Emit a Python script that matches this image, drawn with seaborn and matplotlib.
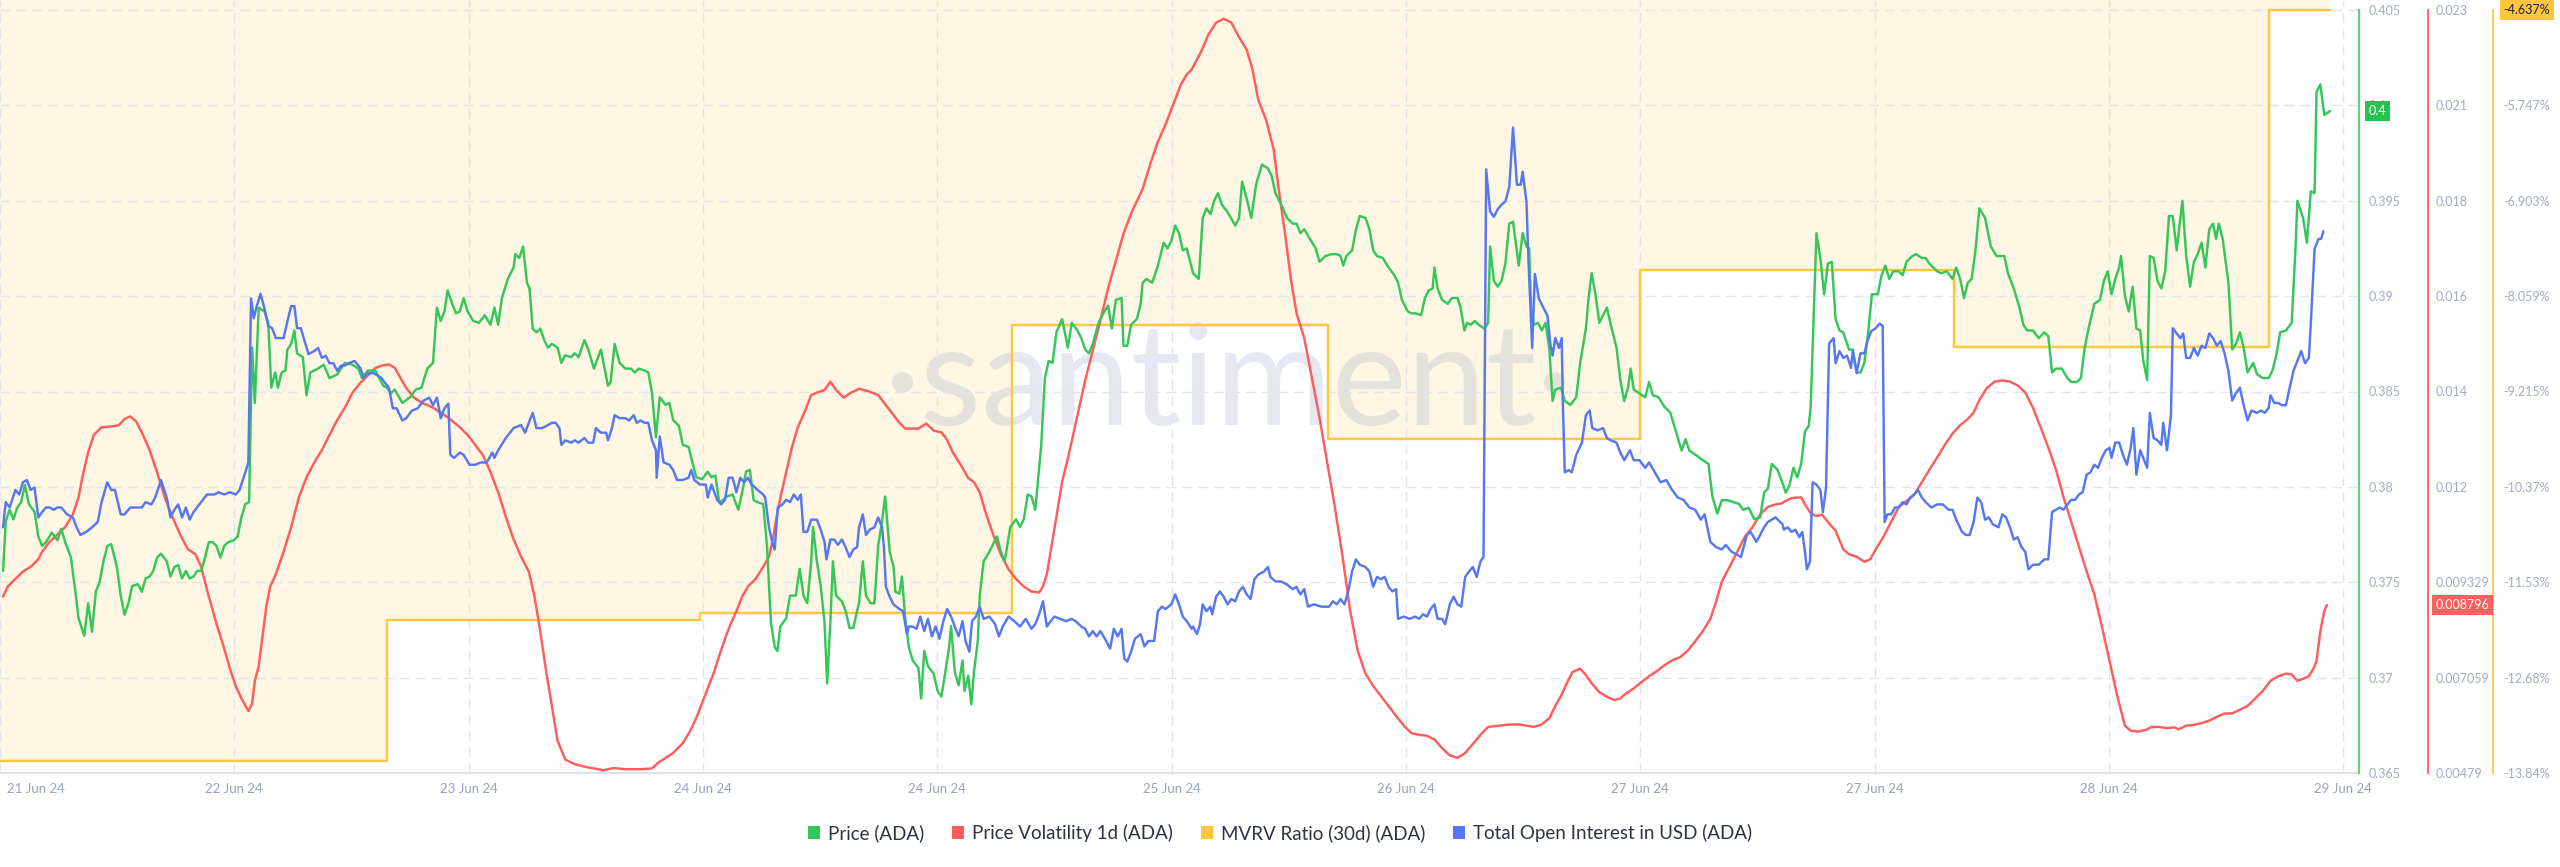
import numpy as np
import matplotlib
matplotlib.use("Agg")
import matplotlib.pyplot as plt
import matplotlib.transforms as mtransforms
import seaborn as sns
from matplotlib.patches import Patch

# ---------------- data (hours since 21 Jun 24 00:00) ----------------
price_hours = [0.25,0.47,0.79,1.10,1.41,1.73,2.04,2.36,2.83,3.14,3.45,3.77,4.24,4.71,5.02,5.34,5.81,6.12,6.44,6.91,7.22,7.54,7.85,8.16,8.48,8.79,9.11,9.58,9.89,10.21,10.52,10.83,11.30,11.62,11.93,12.25,12.56,12.87,13.19,13.66,13.97,14.29,14.60,14.92,15.23,15.54,15.86,16.17,16.49,16.80,17.11,17.43,17.74,18.06,18.37,18.68,19.15,19.47,19.78,20.10,20.41,20.66,20.88,21.20,21.67,21.98,22.23,22.55,22.77,23.08,23.39,23.55,23.86,24.12,24.34,24.81,25.12,25.43,25.75,26.06,26.53,27.00,27.63,28.26,28.89,29.36,29.67,30.14,30.77,31.40,31.71,32.03,32.34,32.97,33.60,34.07,34.54,35.01,35.48,35.80,36.11,36.42,36.68,37.05,37.37,37.68,37.99,38.31,38.78,39.25,39.72,40.19,40.51,40.82,41.13,41.61,42.08,42.23,42.55,42.86,43.18,43.39,43.65,43.96,44.27,44.59,44.90,45.22,45.69,46.00,46.32,46.79,47.10,47.41,47.89,48.20,48.67,49.24,
    49.82,50.04,50.36,50.77,51.24,51.71,52.02,52.34,52.81,53.12,53.43,53.75,54.06,54.53,54.85,55.16,55.63,55.95,56.42,56.73,57.05,57.52,57.99,58.30,58.62,58.93,59.24,59.56,60.03,60.50,60.81,61.13,61.44,61.76,62.07,62.54,62.85,63.17,63.48,63.70,63.95,64.42,64.74,65.21,65.52,65.84,66.15,66.47,66.62,66.94,67.25,67.56,67.78,68.04,68.25,68.51,68.98,69.29,69.61,69.92,70.23,70.39,70.70,70.96,71.33,71.65,71.96,72.27,72.53,72.90,73.22,73.37,73.69,73.91,74.16,74.47,74.79,75.26,75.48,75.73,76.04,76.51,76.83,77.14,77.46,77.77,77.93,78.24,78.55,78.87,79.03,79.34,79.59,79.81,80.12,80.28,80.60,81.07,81.69,82.01,82.32,82.79,83.26,83.58,83.89,84.21,84.52,84.83,84.99,85.31,85.62,85.93,86.25,86.56,87.03,87.50,87.82,88.29,88.60,88.92,89.23,89.54,90.02,90.49,90.80,91.11,91.43,91.90,92.06,92.37,92.68,93.16,93.47,93.63,93.94,94.41,94.88,95.35,95.67,95.98,96.30,96.61,96.92,97.24,97.65,
    97.76,98.23,98.55,98.86,99.18,99.49,99.80,100.12,100.59,101.22,101.53,101.78,102.16,102.53,102.94,103.41,103.89,104.20,104.51,104.98,105.46,105.93,106.24,106.55,106.87,107.34,107.81,108.12,108.60,109.07,109.54,109.85,110.07,110.32,110.79,111.11,111.42,111.89,112.21,112.52,112.83,113.31,113.78,114.25,114.56,114.88,115.35,115.66,115.97,116.45,116.76,117.07,117.39,117.54,117.80,118.17,118.64,118.96,119.43,119.68,119.99,120.21,120.53,120.84,121.16,121.63,121.94,122.10,122.41,122.73,123.04,123.35,123.67,123.98,124.45,124.77,125.08,125.30,125.46,125.71,126.02,126.34,126.65,126.96,127.22,127.44,127.91,128.22,128.69,129.16,129.48,129.95,130.17,130.42,130.73,131.05,131.36,131.67,131.99,132.46,132.77,133.09,133.40,133.62,133.87,134.34,134.81,135.13,135.44,135.91,136.38,136.86,137.33,137.80,138.11,138.43,138.90,139.52,140.00,140.31,140.72,141.09,141.57,142.04,142.51,142.82,143.29,143.76,144.23,144.55,144.86,145.18,145.65,146.06,
    146.33,146.64,146.96,147.27,147.59,147.90,148.21,148.37,148.68,148.84,149.16,149.47,149.78,150.10,150.41,150.73,151.04,151.51,151.82,152.14,152.45,152.77,153.08,153.39,153.87,154.18,154.49,154.81,155.12,155.59,155.91,156.22,156.69,157.01,157.48,157.79,158.10,158.42,158.73,159.05,159.52,159.99,160.30,160.62,160.93,161.24,161.56,161.87,162.19,162.66,163.13,163.60,164.23,164.54,165.01,165.48,165.80,166.11,166.58,167.05,167.52,167.84,168.15,168.47,168.94,169.41,169.72,170.19,170.51,170.82,171.14,171.61,172.08,172.39,172.71,173.02,173.33,173.65,173.80,174.12,174.43,174.75,175.06,175.37,175.63,175.94,176.16,176.47,176.79,177.10,177.42,177.73,178.04,178.36,178.83,179.14,179.46,179.77,180.08,180.40,180.71,181.03,181.34,181.59,181.81,182.13,182.60,182.91,183.22,183.54,183.85,184.17,184.64,184.95,185.42,185.89,186.21,186.52,186.84,187.31,187.78,188.09,188.25,188.72,189.03,189.35,189.66,189.82,190.13,190.45,190.92]
price_values = [0.3756,0.3782,0.3788,0.3783,0.3789,0.3792,0.3801,0.3791,0.3787,0.3774,0.3769,0.3771,0.3776,0.3772,0.3778,0.3771,0.3763,0.3748,0.3731,0.3722,0.3739,0.3724,0.3745,0.3750,0.3761,0.3769,0.3770,0.3758,0.3743,0.3733,0.3739,0.3748,0.3749,0.3745,0.3752,0.3753,0.3756,0.3763,0.3765,0.3761,0.3753,0.3758,0.3759,0.3752,0.3756,0.3752,0.3753,0.3756,0.3756,0.3763,0.3771,0.3771,0.3769,0.3763,0.3769,0.3771,0.3772,0.3774,0.3784,0.3791,0.3792,0.3873,0.3844,0.3894,0.3892,0.3886,0.3852,0.3860,0.3852,0.3860,0.3861,0.3872,0.3875,0.3882,0.3870,0.3868,0.3848,0.3860,0.3861,0.3862,0.3864,0.3857,0.3859,0.3865,0.3864,0.3862,0.3857,0.3861,0.3861,0.3853,0.3852,0.3849,0.3851,0.3844,0.3847,0.3851,0.3852,0.3862,0.3865,0.3894,0.3887,0.3892,0.3903,0.3896,0.3891,0.3892,0.3899,0.3892,0.3887,0.3886,0.3890,0.3885,0.3894,0.3885,0.3899,0.3909,0.3915,0.3922,0.3920,0.3926,0.3907,0.3904,0.3883,0.3881,0.3883,0.3877,0.3873,0.3875,0.3873,0.3865,0.3869,0.3868,0.3870,0.3868,0.3877,0.3872,0.3862,0.3872,
    0.3853,0.3855,0.3875,0.3865,0.3862,0.3862,0.3860,0.3862,0.3861,0.3860,0.3849,0.3826,0.3847,0.3843,0.3844,0.3835,0.3832,0.3822,0.3821,0.3813,0.3805,0.3804,0.3808,0.3805,0.3806,0.3792,0.3793,0.3795,0.3796,0.3788,0.3797,0.3808,0.3809,0.3793,0.3792,0.3791,0.3769,0.3729,0.3716,0.3714,0.3727,0.3731,0.3743,0.3743,0.3757,0.3743,0.3739,0.3761,0.3779,0.3761,0.3748,0.3729,0.3697,0.3729,0.3761,0.3743,0.3740,0.3735,0.3726,0.3726,0.3735,0.3739,0.3761,0.3743,0.3739,0.3739,0.3769,0.3782,0.3795,0.3766,0.3758,0.3745,0.3744,0.3753,0.3732,0.3716,0.3709,0.3705,0.3689,0.3714,0.3706,0.3702,0.3693,0.3690,0.3703,0.3716,0.3727,0.3703,0.3696,0.3709,0.3693,0.3701,0.3686,0.3703,0.3719,0.3743,0.3761,0.3766,0.3774,0.3766,0.3761,0.3779,0.3783,0.3779,0.3783,0.3796,0.3795,0.3788,0.3799,0.3821,0.3857,0.3866,0.3865,0.3881,0.3888,0.3873,0.3886,0.3882,0.3878,0.3872,0.3870,0.3875,0.3886,0.3892,0.3895,0.3883,0.3898,0.3899,0.3874,0.3874,0.3885,0.3888,0.3896,0.3907,0.3909,0.3907,0.3916,0.3928,0.3925,0.3929,0.3937,0.3933,0.3924,0.3925,0.3915,
    0.3912,0.3909,0.3941,0.3946,0.3943,0.3950,0.3954,0.3948,0.3944,0.3937,0.3941,0.3960,0.3951,0.3941,0.3959,0.3969,0.3967,0.3963,0.3954,0.3948,0.3941,0.3938,0.3938,0.3933,0.3935,0.3930,0.3925,0.3918,0.3921,0.3922,0.3922,0.3921,0.3916,0.3921,0.3924,0.3935,0.3942,0.3941,0.3935,0.3924,0.3921,0.3920,0.3915,0.3911,0.3907,0.3898,0.3892,0.3891,0.3891,0.3890,0.3899,0.3903,0.3904,0.3915,0.3904,0.3898,0.3896,0.3899,0.3899,0.3894,0.3882,0.3886,0.3885,0.3887,0.3885,0.3883,0.3886,0.3926,0.3908,0.3905,0.3908,0.3917,0.3938,0.3939,0.3916,0.3933,0.3926,0.3925,0.3894,0.3885,0.3886,0.3882,0.3886,0.3872,0.3845,0.3851,0.3852,0.3845,0.3843,0.3847,0.3865,0.3883,0.3899,0.3912,0.3901,0.3886,0.3890,0.3894,0.3885,0.3873,0.3856,0.3845,0.3852,0.3862,0.3851,0.3849,0.3847,0.3855,0.3848,0.3847,0.3842,0.3839,0.3829,0.3819,0.3825,0.3819,0.3817,0.3814,0.3812,0.3795,0.3786,0.3793,0.3793,0.3792,0.3791,0.3788,0.3789,0.3783,0.3784,0.3797,0.3799,0.3812,0.3809,0.3802,
    0.3797,0.3801,0.3810,0.3805,0.3812,0.3829,0.3832,0.3842,0.3901,0.3933,0.3920,0.3901,0.3917,0.3918,0.3888,0.3882,0.3881,0.3872,0.3872,0.3860,0.3860,0.3865,0.3881,0.3901,0.3901,0.3911,0.3916,0.3909,0.3913,0.3913,0.3911,0.3918,0.3921,0.3922,0.3920,0.3920,0.3917,0.3915,0.3913,0.3912,0.3913,0.3909,0.3915,0.3909,0.3899,0.3907,0.3909,0.3924,0.3946,0.3941,0.3926,0.3921,0.3921,0.3912,0.3904,0.3894,0.3885,0.3882,0.3882,0.3878,0.3881,0.3879,0.3860,0.3862,0.3862,0.3857,0.3855,0.3855,0.3857,0.3873,0.3883,0.3896,0.3898,0.3908,0.3913,0.3901,0.3909,0.3915,0.3921,0.3900,0.3892,0.3905,0.3883,0.3882,0.3866,0.3856,0.3921,0.3920,0.3908,0.3904,0.3913,0.3942,0.3942,0.3924,0.3950,0.3921,0.3905,0.3918,0.3922,0.3928,0.3915,0.3935,0.3938,0.3930,0.3938,0.3930,0.3907,0.3872,0.3875,0.3881,0.3873,0.3860,0.3865,0.3859,0.3857,0.3857,0.3861,0.3869,0.3881,0.3882,0.3886,0.3924,0.3950,0.3941,0.3928,0.3955,0.3954,0.4007,0.4011,0.3995,0.3997]

vol_hours = [0.25,0.63,1.26,1.88,2.51,3.14,3.45,4.08,4.71,5.34,5.97,6.44,6.75,7.22,7.69,8.32,9.11,9.73,10.21,10.68,11.15,11.62,12.25,12.87,13.50,14.13,14.76,15.39,16.01,16.49,17.11,17.74,18.37,18.84,19.31,19.78,20.35,20.66,20.88,21.20,21.51,21.82,22.14,22.61,23.24,23.86,24.49,25.12,25.75,26.38,27.00,27.63,28.26,28.89,29.52,30.14,30.77,31.40,31.87,32.34,32.81,33.28,33.91,34.54,35.48,36.11,36.74,37.68,38.31,38.94,39.56,40.19,40.82,41.45,42.08,42.70,43.33,43.80,44.27,44.75,45.22,45.69,46.32,47.10,48.04,49.24,
    49.35,50.29,51.24,52.49,53.43,53.91,54.53,55.16,55.95,56.57,57.05,57.52,57.99,58.46,58.93,59.40,59.87,60.34,60.81,61.28,61.91,62.54,63.01,63.33,63.64,63.95,64.42,64.89,65.37,65.99,66.47,66.94,67.56,68.04,68.51,69.13,69.76,70.39,71.17,71.96,72.59,73.22,73.69,74.16,74.79,75.26,75.89,76.51,77.14,77.61,78.08,78.71,79.34,79.81,80.28,80.75,81.38,82.01,82.64,83.26,83.89,84.52,85.15,85.46,85.78,86.09,86.56,87.03,87.66,88.29,88.92,89.54,90.17,90.80,91.43,92.06,92.68,93.63,94.25,94.88,95.51,96.14,96.76,97.24,97.65,
    97.76,98.39,99.02,99.65,100.27,100.90,101.53,102.16,102.63,103.10,103.73,104.36,104.83,105.30,105.77,106.24,106.87,107.50,108.12,108.75,109.38,110.01,110.64,111.26,111.89,112.52,113.15,113.78,114.40,115.03,115.66,116.29,116.92,117.54,118.17,118.80,119.43,120.06,120.68,121.31,121.94,122.88,123.82,124.45,125.08,125.71,126.34,126.96,127.44,127.91,128.38,128.85,129.48,129.95,130.42,131.05,131.67,132.30,132.77,133.24,133.87,134.50,135.13,135.76,136.38,137.01,137.64,138.27,138.90,139.52,140.15,140.62,141.09,141.72,142.35,142.98,143.61,144.23,144.86,145.49,146.06,
    146.17,146.80,147.59,147.90,148.37,148.84,149.31,149.78,150.41,151.04,151.51,152.14,152.77,153.24,153.71,154.34,154.96,155.59,156.22,156.85,157.48,158.10,158.73,159.36,159.99,160.62,161.24,161.72,162.19,162.81,163.44,164.07,164.70,165.33,165.95,166.58,167.21,167.84,168.47,169.09,169.72,170.35,170.98,171.61,172.23,172.86,173.49,174.12,174.59,175.22,175.85,176.32,176.94,177.57,178.20,178.51,179.14,179.77,180.40,181.03,181.65,182.28,182.91,183.54,184.17,184.79,185.42,186.05,186.68,187.31,187.78,188.25,188.72,189.19,189.57,189.82,190.13,190.45,190.67]
vol_values_milli = [9.00,9.24,9.42,9.60,9.71,9.89,10.07,10.31,10.48,10.66,10.96,11.37,11.85,12.44,12.86,13.04,13.06,13.09,13.24,13.30,13.18,12.92,12.50,11.97,11.37,10.90,10.48,10.13,10.01,9.71,9.00,8.35,7.76,7.28,6.87,6.57,6.27,6.45,6.99,7.34,8.05,8.76,9.24,9.54,10.07,10.66,11.37,11.85,12.20,12.50,12.86,13.21,13.51,13.87,14.10,14.28,14.46,14.52,14.54,14.46,14.22,13.98,13.75,13.63,13.51,13.39,13.27,13.04,12.86,12.62,12.38,11.97,11.49,10.90,10.37,9.95,9.60,9.00,8.17,7.22,6.39,5.56,5.11,5.00,4.93,4.87,
    4.85,4.91,4.88,4.88,4.90,5.03,5.15,5.27,5.50,5.80,6.10,6.45,6.81,7.16,7.58,7.99,8.35,8.65,9.00,9.24,9.42,9.71,9.95,10.37,10.90,11.37,11.97,12.56,13.04,13.45,13.81,13.87,13.93,14.13,13.93,13.75,13.87,13.96,13.90,13.81,13.57,13.33,13.15,13.01,13.01,13.01,13.13,12.96,12.92,12.74,12.44,12.15,11.83,11.73,11.49,11.02,10.48,10.01,9.65,9.42,9.24,9.12,9.10,9.24,9.54,10.07,10.90,11.73,12.50,13.33,14.16,14.87,15.59,16.36,17.01,17.66,18.14,18.73,19.32,19.86,20.27,20.75,21.22,21.46,21.58,
    21.64,21.99,22.41,22.70,22.79,22.70,22.35,22.05,21.58,20.86,20.39,19.68,18.61,17.66,16.59,15.76,15.17,14.22,13.27,12.20,11.14,9.95,8.65,7.70,7.16,6.87,6.63,6.39,6.15,5.92,5.74,5.70,5.68,5.59,5.38,5.21,5.15,5.27,5.48,5.70,5.89,5.92,5.95,5.95,5.92,5.89,5.95,6.10,6.39,6.63,6.93,7.20,7.28,7.13,6.93,6.72,6.61,6.53,6.57,6.69,6.81,6.96,7.10,7.22,7.36,7.48,7.55,7.70,7.93,8.17,8.47,8.88,9.36,9.71,10.07,10.43,10.66,10.96,11.14,11.20,11.23,
    11.26,11.35,11.37,11.20,10.99,10.92,10.96,10.78,10.57,10.13,10.01,9.95,9.83,9.89,10.13,10.43,10.78,11.14,11.28,11.43,11.73,12.03,12.32,12.62,12.89,13.09,13.24,13.39,13.69,13.98,14.13,14.16,14.13,14.04,13.87,13.51,13.04,12.56,12.03,11.37,10.78,10.19,9.60,9.06,8.29,7.46,6.63,5.92,5.80,5.78,5.82,5.89,5.89,5.86,5.88,5.83,5.92,5.94,5.98,6.04,6.13,6.21,6.21,6.30,6.39,6.57,6.75,6.99,7.10,7.16,7.14,6.99,7.04,7.10,7.28,7.46,8.17,8.65,8.796]

mvrv_hours = [0.0, 31.7, 57.4, 82.9, 108.8, 134.4, 160.1, 185.9, 190.9]
mvrv_values = [-13.69, -12.00, -11.91, -8.44, -9.81, -7.77, -8.70, -4.637, -4.637]

oi_hours = [0.25,0.47,0.79,1.26,1.57,1.88,2.20,2.51,2.83,3.14,3.45,3.77,4.08,4.40,4.71,5.02,5.50,5.97,6.28,6.59,7.07,7.54,8.01,8.32,8.79,9.11,9.42,9.89,10.21,10.68,11.15,11.62,11.93,12.40,12.72,13.19,13.66,13.97,14.29,14.60,14.92,15.23,15.54,15.86,16.33,16.96,17.58,17.90,18.37,18.84,19.31,19.63,20.10,20.35,20.57,20.79,21.04,21.35,21.67,21.98,22.29,22.61,23.24,23.55,23.86,24.12,24.34,24.65,24.96,25.28,25.75,26.06,26.38,26.69,27.00,27.32,27.63,27.95,28.26,28.57,29.05,29.52,29.83,30.14,30.62,30.93,31.24,31.56,31.87,32.19,32.50,32.97,33.28,33.76,34.23,34.70,35.17,35.48,35.80,36.11,36.42,36.74,36.90,37.21,37.68,37.99,38.47,38.94,39.41,39.88,40.35,40.51,40.82,41.45,42.08,42.70,43.02,43.33,43.65,43.96,44.43,44.90,45.22,45.53,45.84,46.00,46.32,46.79,47.10,47.41,47.89,48.20,48.61,48.83,49.24,
    49.35,49.67,49.82,50.14,50.36,50.77,51.24,51.55,51.93,52.18,52.49,52.81,53.12,53.43,53.75,53.81,54.06,54.38,54.85,55.16,55.48,55.95,56.42,56.64,56.89,57.36,57.83,57.99,58.30,58.77,59.09,59.40,59.71,60.03,60.34,60.66,60.97,61.28,61.60,62.07,62.54,62.70,63.01,63.33,63.48,63.73,64.11,64.42,64.74,65.05,65.37,65.62,65.84,66.15,66.47,66.94,67.25,67.56,67.72,68.04,68.35,68.66,68.98,69.29,69.61,69.92,70.23,70.39,70.70,70.96,71.27,71.65,71.96,72.27,72.43,72.59,72.90,73.22,73.69,74.00,74.32,74.47,74.79,75.10,75.41,75.73,76.04,76.36,76.67,76.98,77.30,77.61,77.93,78.24,78.55,78.87,79.12,79.43,79.65,79.97,80.28,80.60,81.07,81.54,81.85,82.17,82.64,83.11,83.58,84.05,84.52,84.83,85.15,85.46,85.78,86.09,86.40,86.88,87.35,87.82,88.13,88.60,88.92,89.23,89.54,89.86,90.17,90.64,90.96,91.27,91.59,91.90,92.12,92.37,92.68,93.00,93.47,93.78,94.10,94.57,94.88,95.20,95.51,95.98,96.30,96.61,96.92,97.24,97.65,
    97.76,98.08,98.33,98.55,98.86,99.18,99.33,99.65,99.96,100.27,100.59,100.90,101.22,101.53,101.84,102.16,102.47,102.79,103.10,103.57,103.89,104.10,104.51,104.98,105.46,105.93,106.24,106.55,106.87,107.18,107.65,108.28,108.91,109.22,109.54,109.85,110.17,110.48,110.79,111.11,111.42,111.89,112.21,112.52,112.83,113.15,113.46,113.78,114.09,114.40,114.56,115.03,115.50,115.97,116.29,116.60,116.92,117.23,117.54,117.80,118.17,118.42,118.80,119.11,119.43,119.74,120.06,120.37,120.68,121.00,121.31,121.56,121.78,122.10,122.41,122.73,123.04,123.35,123.67,123.98,124.30,124.61,124.77,125.08,125.24,125.55,125.77,126.09,126.49,126.81,127.03,127.22,127.44,127.75,127.97,128.06,128.22,128.53,128.79,129.16,129.63,129.95,130.26,130.48,130.89,131.36,131.67,131.99,132.46,132.77,133.09,133.56,133.87,134.34,134.81,135.13,135.60,136.07,136.54,137.01,137.48,137.95,138.43,138.90,139.37,139.68,140.15,140.62,141.09,141.41,141.88,142.35,142.66,143.14,143.45,143.92,144.23,144.55,144.86,145.18,145.49,146.06,
    146.17,146.49,146.80,147.11,147.43,147.68,147.90,148.06,148.31,148.53,148.84,149.16,149.37,149.63,149.88,150.25,150.41,150.73,151.04,151.35,151.67,151.82,152.14,152.45,152.77,153.02,153.33,153.71,154.02,154.27,154.43,154.65,154.96,155.28,155.59,155.91,156.22,156.53,156.85,157.16,157.48,157.79,158.26,158.73,159.20,159.67,159.99,160.30,160.77,161.09,161.40,161.72,162.03,162.34,162.66,162.97,163.29,163.76,164.07,164.38,164.70,165.01,165.33,165.64,165.95,166.21,166.58,167.05,167.52,167.84,168.15,168.47,168.78,169.09,169.41,169.72,170.04,170.35,170.66,170.98,171.29,171.61,171.92,172.23,172.55,172.86,173.02,173.33,173.65,173.96,174.28,174.59,174.81,175.06,175.37,175.69,175.94,176.16,176.47,176.79,177.10,177.26,177.57,177.89,178.04,178.36,178.67,178.89,179.14,179.46,179.77,180.08,180.40,180.71,181.03,181.34,181.65,181.97,182.28,182.60,182.91,183.22,183.54,183.85,184.17,184.48,184.95,185.27,185.58,185.89,186.05,186.36,186.68,186.99,187.31,187.62,187.93,188.25,188.56,188.88,189.19,189.35,189.66,189.98,190.20,190.38]
oi_values_musd = [232.2,235.5,234.8,237.1,236.5,238.1,238.4,237.1,237.4,233.5,234.2,234.8,234.8,234.5,234.8,234.8,233.9,233.5,232.2,231.2,231.6,232.2,232.9,235.5,238.1,237.1,237.1,233.9,233.9,234.8,234.8,234.8,235.5,235.2,236.1,238.4,236.1,233.5,234.5,235.2,233.5,234.8,233.2,234.2,235.2,236.5,236.5,236.8,236.5,236.8,236.5,237.1,239.4,240.7,262.2,259.6,261.2,262.8,260.9,258.6,258.3,257.0,257.0,259.2,261.2,261.2,258.3,258.3,256.6,254.9,255.3,255.7,254.4,254.7,253.7,253.7,252.7,253.4,253.4,253.7,254.0,253.1,251.8,252.4,252.4,252.1,251.8,251.1,250.5,247.8,247.8,246.2,246.5,247.5,247.8,248.8,249.2,248.2,249.2,246.5,247.8,248.4,241.7,241.3,242.0,241.7,240.4,240.4,240.7,240.7,242.0,241.3,242.3,243.9,245.2,245.6,244.6,245.9,247.2,245.2,245.2,245.6,245.9,245.9,245.2,243.0,243.6,243.3,243.6,243.3,243.9,243.3,243.3,245.2,244.6,
    244.6,244.6,243.6,245.2,246.9,246.5,246.5,246.2,246.9,245.9,246.2,245.9,245.9,243.6,242.3,238.7,244.1,240.7,240.4,239.7,238.4,238.4,238.7,239.7,238.4,237.8,237.8,236.1,237.8,235.8,235.2,235.8,238.7,238.7,236.8,238.7,238.1,238.7,237.8,237.1,236.5,236.1,232.2,229.9,229.3,234.8,235.2,235.8,235.5,236.5,235.8,236.5,231.6,231.6,233.2,233.2,231.9,230.3,228.0,230.6,230.6,229.9,230.6,229.6,228.3,229.3,229.6,232.2,233.9,231.2,231.9,232.2,233.5,232.2,229.6,224.4,223.1,222.1,221.5,221.2,218.2,219.2,219.2,218.9,220.5,218.6,220.2,217.9,219.2,217.6,219.9,221.5,220.5,219.2,217.9,219.9,217.3,215.9,219.9,220.5,221.8,220.2,220.5,219.5,217.9,219.2,220.5,219.9,219.2,220.2,218.9,219.5,220.8,222.5,219.2,219.9,220.5,220.2,219.9,220.2,219.9,219.2,218.9,217.9,218.6,217.9,218.6,217.3,216.3,218.9,217.9,218.9,215.0,214.6,215.9,217.6,218.2,216.6,217.3,217.3,221.2,221.8,221.5,222.1,223.4,222.1,220.5,219.9,218.9,
    219.2,218.2,219.5,222.1,221.2,221.8,220.8,223.1,223.8,223.1,222.1,222.8,222.5,223.8,224.4,223.4,222.8,225.4,226.0,226.4,227.0,225.7,225.1,225.1,224.7,224.1,224.4,223.4,224.1,221.8,222.1,221.8,221.8,222.5,222.1,222.8,222.1,223.8,226.4,228.0,227.3,227.0,226.4,224.4,225.7,225.4,225.7,224.4,223.8,224.1,220.2,220.5,220.2,220.5,220.2,220.8,220.5,221.5,222.1,220.2,220.2,219.5,222.1,223.1,222.1,221.8,225.7,226.4,227.0,225.7,227.7,228.3,279.1,273.6,272.9,273.9,274.5,274.9,276.8,284.6,277.1,277.1,278.8,274.9,267.4,255.7,265.4,262.2,260.9,259.9,256.3,254.7,257.0,255.7,257.0,248.5,239.4,239.7,239.4,241.7,243.3,246.9,247.5,245.2,244.9,245.2,243.9,243.6,243.3,242.0,241.0,242.3,241.0,241.0,240.0,240.7,239.4,238.1,238.4,237.1,236.1,235.8,234.8,234.5,233.2,233.9,230.3,229.6,229.3,229.9,229.0,228.6,228.3,231.2,231.6,230.3,231.2,232.2,232.9,233.2,233.5,232.6,
    231.9,232.2,231.6,231.9,230.9,231.6,229.0,226.7,227.7,238.1,237.8,237.1,234.2,237.4,256.3,257.0,253.7,255.3,254.4,254.7,253.1,255.3,252.4,255.0,255.0,256.6,257.9,258.3,258.9,258.6,232.9,233.9,233.9,234.8,234.8,235.5,235.2,236.1,236.5,237.1,236.1,235.5,234.8,235.2,235.2,234.5,234.5,233.2,231.6,231.2,231.2,232.9,236.1,235.5,233.2,233.5,232.6,232.2,233.9,233.5,232.2,230.6,230.9,229.6,229.0,226.7,227.3,227.3,228.0,228.0,234.2,234.5,234.8,234.5,235.2,235.8,235.8,236.5,236.8,239.1,239.4,240.4,240.0,241.3,242.3,242.6,241.3,243.3,243.3,241.7,240.4,242.6,245.2,239.1,242.3,241.0,240.0,247.2,243.9,243.6,243.0,245.9,242.3,246.9,258.3,257.6,257.0,257.6,254.4,254.4,255.7,254.7,256.0,255.7,257.6,257.0,256.0,256.6,255.0,252.7,248.8,249.8,250.5,248.2,246.2,247.5,247.2,247.5,247.2,247.8,249.5,248.5,248.5,248.2,248.2,250.5,252.7,254.0,255.3,253.7,254.4,258.9,268.7,270.0,270.0,271.0]

x_tick_hours = [0.0, 19.2, 38.4, 57.6, 76.8, 96.0, 115.2, 134.4, 153.6, 172.8, 192.0]
x_tick_labels = ["21 Jun 24", "22 Jun 24", "23 Jun 24", "24 Jun 24", "24 Jun 24", "25 Jun 24",
                 "26 Jun 24", "27 Jun 24", "27 Jun 24", "28 Jun 24", "29 Jun 24"]
price_ticks = [0.365, 0.37, 0.375, 0.38, 0.385, 0.39, 0.395, 0.4, 0.405]
price_tick_labels = ["0.365", "0.37", "0.375", "0.38", "0.385", "0.39", "0.395", "0.4", "0.405"]
vol_range = (0.00479, 0.023)
vol_tick_labels = ["0.00479", "0.007059", "0.009329", "0.012", "0.014", "0.016", "0.018", "0.021", "0.023"]
mvrv_range = (-13.84, -4.637)
mvrv_tick_labels = ["-13.84%", "-12.68%", "-11.53%", "-10.37%", "-9.215%", "-8.059%", "-6.903%", "-5.747%", "-4.637%"]
oi_range = (200.0, 300.0)
series_names = ["Price (ADA)", "Price Volatility 1d (ADA)", "MVRV Ratio (30d) (ADA)", "Total Open Interest in USD (ADA)"]

# ---------------- style ----------------
C_PRICE, C_VOL, C_MVRV, C_OI = "#35c65a", "#ff5c5c", "#ffc73f", "#5577f2"
FILL = "#fff6e3"
TICK_C = "#a3abc3"
LW = 1.75

sns.set_theme(style="white")
plt.rcParams["font.family"] = ["Lato", "DejaVu Sans"]

W, H, DPI = 2560, 867, 100
right_px, bottom_px, top_pad_px = 2359, 773, 10
fig = plt.figure(figsize=(W / DPI, H / DPI), dpi=DPI)
ax = fig.add_axes([0, 1 - bottom_px / H, right_px / W, bottom_px / H])
ax_v = ax.twinx()
ax_p = ax.twinx()
ax_o = ax.twinx()

pad = top_pad_px / (bottom_px - top_pad_px)
def lim(lo, hi):
    return (lo, hi + (hi - lo) * pad)

xlim = (0, 193.3)
ax.set_xlim(*xlim)
ax.set_ylim(*lim(*mvrv_range))
ax_v.set_ylim(*lim(*vol_range))
ax_p.set_ylim(*lim(price_ticks[0], price_ticks[-1]))
ax_o.set_ylim(*lim(*oi_range))

# background fill above MVRV line
mtop = ax.get_ylim()[1]
ax.fill_between(mvrv_hours, mvrv_values, mtop, step="post", color=FILL, linewidth=0, zorder=0.1)

# watermark
ax.text(1228 / right_px, (bottom_px - 425) / bottom_px, "\u00b7santiment\u00b7", transform=ax.transAxes,
        ha="center", va="baseline", fontsize=102, color="#9aa5c4", alpha=0.25, zorder=0.3)

# lines
sns.lineplot(x=mvrv_hours, y=mvrv_values, ax=ax, color=C_MVRV, linewidth=LW,
             drawstyle="steps-post", estimator=None, legend=False, zorder=2)
sns.lineplot(x=vol_hours, y=np.array(vol_values_milli) / 1000, ax=ax_v, color=C_VOL, linewidth=LW,
             estimator=None, legend=False)
sns.lineplot(x=price_hours, y=price_values, ax=ax_p, color=C_PRICE, linewidth=LW,
             estimator=None, legend=False)
sns.lineplot(x=oi_hours, y=oi_values_musd, ax=ax_o, color=C_OI, linewidth=LW,
             estimator=None, legend=False)
for a in (ax, ax_v, ax_p, ax_o):
    a.set_xlabel("")
    a.set_ylabel("")
    a.set_xlim(*xlim)

# grid
ax.set_axisbelow(True)
ax.grid(True, axis="both", color="#e2e4ec", linestyle=(0, (7, 4.5)), linewidth=1.0)

# x axis
ax.set_xticks(x_tick_hours)
ax.set_xticklabels(x_tick_labels)
ax.tick_params(axis="x", length=0, pad=7, labelsize=9.5, labelcolor="#9aa2bb")
first = ax.get_xticklabels()[0]
first.set_horizontalalignment("left")
first.set_transform(first.get_transform() + mtransforms.ScaledTranslation(7 / DPI, 0, fig.dpi_scale_trans))
for s in ("top", "left"):
    ax.spines[s].set_visible(False)
ax.spines["bottom"].set_color("#dde1ea")
ax.spines["bottom"].set_linewidth(1.5)

# MVRV axis (main)
ax.yaxis.tick_right()
ax.spines["right"].set_position(("axes", 2493 / right_px))
ax.spines["right"].set_color(C_MVRV)
ax.spines["right"].set_linewidth(1.3)
ax.spines["right"].set_bounds(*mvrv_range)
ax.set_yticks(np.linspace(*mvrv_range, len(mvrv_tick_labels)))
ax.set_yticklabels(mvrv_tick_labels)
ax.tick_params(axis="y", which="both", left=False, right=True, length=0, pad=7.5,
               labelsize=9, labelcolor=TICK_C, labelleft=False, labelright=True)

# volatility axis
ax_v.spines["right"].set_position(("axes", 2428 / right_px))
ax_v.spines["right"].set_color(C_VOL)
ax_v.spines["right"].set_linewidth(1.3)
ax_v.spines["right"].set_bounds(*vol_range)
ax_v.set_yticks(np.linspace(*vol_range, len(vol_tick_labels)))
ax_v.set_yticklabels(vol_tick_labels)
ax_v.tick_params(axis="y", length=0, pad=5.5, labelsize=9, labelcolor=TICK_C)

# price axis
ax_p.spines["right"].set_color("#5fd27c")
ax_p.spines["right"].set_linewidth(1.5)
ax_p.spines["right"].set_bounds(price_ticks[0], price_ticks[-1])
ax_p.set_yticks(price_ticks)
ax_p.set_yticklabels(price_tick_labels)
ax_p.tick_params(axis="y", length=0, pad=7, labelsize=9, labelcolor=TICK_C)

# OI axis hidden
ax_o.yaxis.set_visible(False)
for a in (ax_v, ax_p, ax_o):
    for s in ("top", "left", "bottom"):
        a.spines[s].set_visible(False)
ax_o.spines["right"].set_visible(False)

# last-value badges
def badge(a, xfrac, yval, text, fc, tc, dx):
    a.annotate(text, xy=(xfrac, yval), xycoords=("axes fraction", "data"),
               xytext=(dx, 0), textcoords="offset points", ha="left", va="center",
               fontsize=9, color=tc, annotation_clip=False, zorder=10,
               bbox=dict(boxstyle="square,pad=0.3", fc=fc, ec="none"))

badge(ax_p, 1.0, price_values[-1], f"{price_values[-1]:.1f}", "#27c24e", "white", 7)
badge(ax_v, 2428 / right_px, vol_values_milli[-1] / 1000, f"{vol_values_milli[-1] / 1000:.6f}", "#ff5f5f", "white", 5.5)
badge(ax, 2493 / right_px, mvrv_values[-1], f"{mvrv_values[-1]:.3f}%", "#ffc63d", "#1f2333", 7.5)

# legend
handles = [Patch(facecolor=c, edgecolor="none", label=n)
           for c, n in zip([C_PRICE, C_VOL, C_MVRV, C_OI], series_names)]
fig.legend(handles=handles, loc="center", bbox_to_anchor=(0.5, 1 - 833 / H), ncol=4, frameon=False,
           fontsize=13.5, handlelength=0.65, handleheight=0.7, handletextpad=0.4, columnspacing=1.5,
           labelcolor="#2d3244")

fig.savefig("out.png", dpi=DPI)
